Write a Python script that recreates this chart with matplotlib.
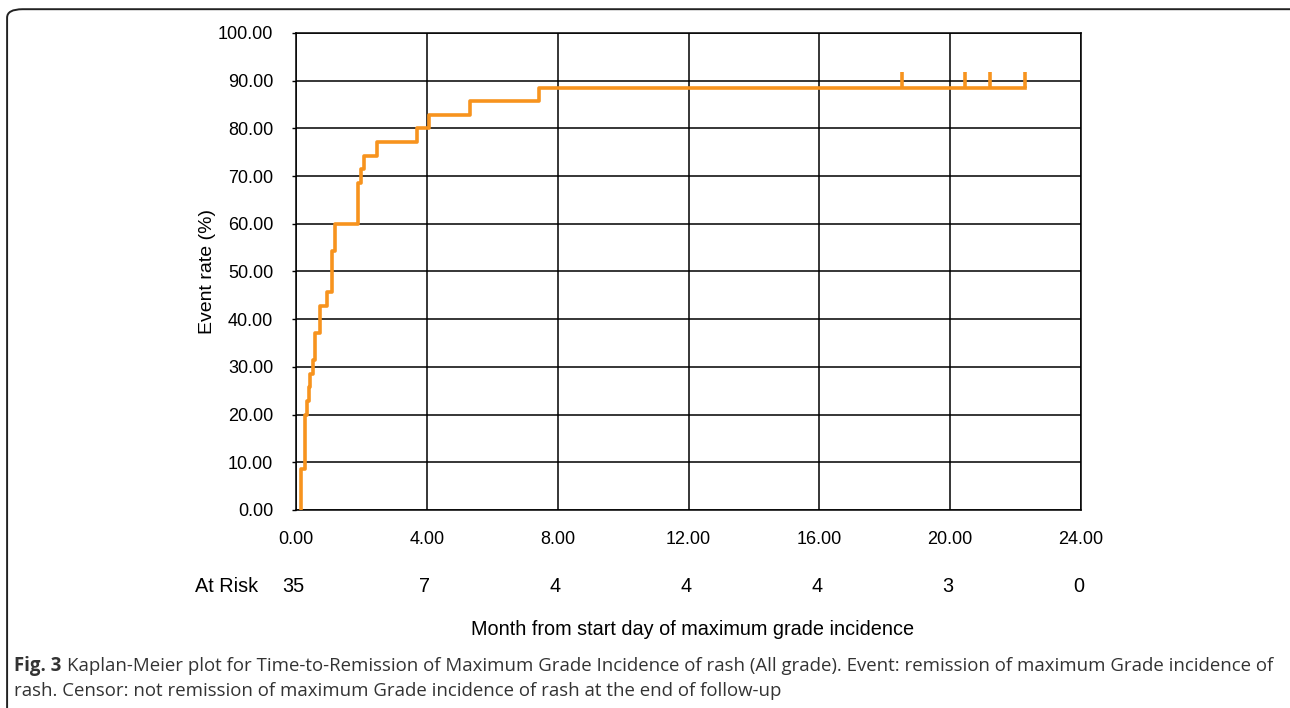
import matplotlib.pyplot as plt
from matplotlib.patches import FancyBboxPatch

# step times (months) and cumulative event rate (%) after each step
event_times = [0.15, 0.28, 0.33, 0.39, 0.43, 0.53, 0.58, 0.73, 0.96, 1.09, 1.19,
               1.88, 1.98, 2.08, 2.49, 3.69, 4.08, 5.32, 7.44]
event_rates = [8.57, 20.00, 22.86, 25.71, 28.57, 31.43, 37.14, 42.86, 45.71, 54.29, 60.00,
               68.57, 71.43, 74.29, 77.14, 80.00, 82.86, 85.71, 88.57]
censor_times = [18.54, 20.44, 21.22, 22.30]
end_time = 22.30

risk_times = [0, 4, 8, 12, 16, 20, 24]
risk_counts = [35, 7, 4, 4, 4, 3, 0]

x_ticks = [0, 4, 8, 12, 16, 20, 24]
y_ticks = [0, 10, 20, 30, 40, 50, 60, 70, 80, 90, 100]

plt.rcParams['font.family'] = ['Liberation Sans', 'DejaVu Sans']
orange = '#f7931e'
cap_color = '#333333'

fig = plt.figure(figsize=(12.9, 7.08), dpi=100)
ax = fig.add_axes([0.2295, 0.2797, 0.6085, 0.6737])

xs = [event_times[0]] + event_times + [end_time]
ys = [0] + event_rates + [event_rates[-1]]
ax.step(xs, ys, where='post', color=orange, lw=2.6, zorder=3)
last = event_rates[-1]
ax.vlines(censor_times, last, last + 3.2, color=orange, lw=2.6, zorder=3)

ax.set_xlim(0, 24)
ax.set_ylim(0, 100)
ax.set_xticks(x_ticks)
ax.set_yticks(y_ticks)
ax.set_xticklabels([f'{v:.2f}' for v in x_ticks], fontsize=13)
ax.set_yticklabels([f'{v:.2f}' for v in y_ticks], fontsize=13)
ax.tick_params(axis='x', length=0, pad=15)
ax.tick_params(axis='y', length=3, width=1, pad=13.5)
ax.grid(True, color='black', lw=1.1)
ax.set_axisbelow(True)
for s in ax.spines.values():
    s.set_color('black')
    s.set_linewidth(1.1)
ax.set_ylabel('Event rate (%)', fontsize=14, labelpad=1)

# at-risk row
tr = ax.get_xaxis_transform()
ax.text(-2.11, -0.161, 'At Risk', transform=tr, fontsize=14.3, ha='center', va='center')
for t, n in zip(risk_times, risk_counts):
    ax.text(t - 0.07, -0.161, str(n), transform=tr, fontsize=14.3, ha='center', va='center')

fig.text(0.5365, 0.111, 'Month from start day of maximum grade incidence',
         fontsize=14.3, ha='center', va='center')

# caption and border
box = FancyBboxPatch((0.0055, -0.1), 1.05, 1.087, boxstyle='round,pad=0,rounding_size=0.012',
                     transform=fig.transFigure, fill=False, ec='#222222', lw=1.4, clip_on=False)
fig.patches.append(box)
bold = fig.text(0.011, 0.06, 'Fig. 3', fontsize=13.45, color=cap_color, va='center',
                family='Open Sans', fontweight='bold')
fig.canvas.draw()
bb = bold.get_window_extent().transformed(fig.transFigure.inverted())
fig.text(bb.x1 + 0.004, 0.06,
         'Kaplan-Meier plot for Time-to-Remission of Maximum Grade Incidence of rash (All grade). '
         'Event: remission of maximum Grade incidence of',
         fontsize=13.45, color=cap_color, va='center', family='Open Sans')
fig.text(0.011, 0.024,
         'rash. Censor: not remission of maximum Grade incidence of rash at the end of follow-up',
         fontsize=13.45, color=cap_color, va='center', family='Open Sans')

fig.savefig('out.png', dpi=100)
